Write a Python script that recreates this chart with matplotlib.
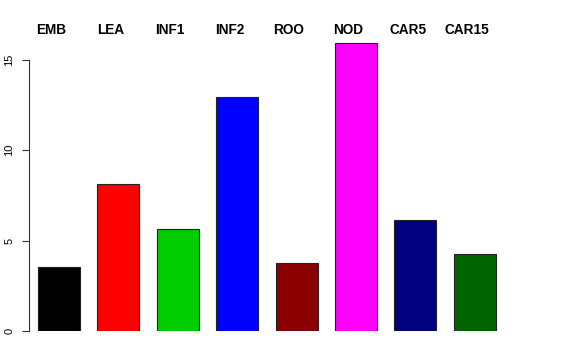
import matplotlib
matplotlib.use("Agg")
import matplotlib.pyplot as plt
from matplotlib.transforms import blended_transform_factory

categories = ["EMB", "LEA", "INF1", "INF2", "ROO", "NOD", "CAR5", "CAR15"]
values = [3.54, 8.12, 5.63, 12.97, 3.75, 15.92, 6.13, 4.28]
colors = ["#000000", "#FF0000", "#00CD00", "#0000FF", "#8B0000", "#FF00FF", "#000080", "#006400"]
yticks = [0, 5, 10, 15]

plt.rcParams['font.family'] = ['Liberation Sans', 'DejaVu Sans']

W, H = 576, 360
fig = plt.figure(figsize=(W / 100, H / 100), dpi=100)
px_per_unit_x = 59.4
px_per_unit_y = 18.07
left_px, bottom_px = 29, 29
xmin = -(59 - left_px) / px_per_unit_x
xmax = 7.6
ymax = 16.5
ax = fig.add_axes([left_px / W, bottom_px / H,
                   (xmax - xmin) * px_per_unit_x / W, ymax * px_per_unit_y / H])
x = list(range(len(categories)))
ax.bar(x, values, width=0.707, color=colors, edgecolor="#222222", linewidth=0.8)
ax.set_xlim(xmin, xmax)
ax.set_ylim(0, ymax)
for s in ["top", "right", "bottom"]:
    ax.spines[s].set_visible(False)
ax.spines["left"].set_bounds(0, 15)
ax.spines["left"].set_color("#333333")
ax.spines["left"].set_linewidth(0.8)
ax.set_xticks([])
ax.set_yticks(yticks)
ax.set_yticklabels([str(v) for v in yticks], rotation=90, va="center", fontsize=8)
ax.tick_params(axis="y", length=5, width=0.8, color="#333333", pad=5.5)

trans = blended_transform_factory(ax.transData, fig.transFigure)
for i, c in enumerate(categories):
    ax.text(i - 0.13, 1 - 29.5 / H, c, transform=trans, ha="center", va="center",
            fontsize=9.8, fontweight="bold", clip_on=False)

fig.savefig("out.png", dpi=100)
